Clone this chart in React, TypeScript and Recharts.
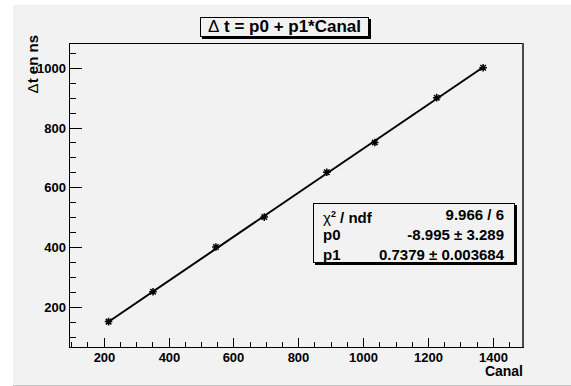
import { ComposedChart, Line, Scatter, XAxis, YAxis, ReferenceArea, ReferenceLine } from "recharts";

// measured points (Canal vs delta t in ns)
const canal = [215, 352, 546, 695, 888, 1036, 1227, 1370];
const deltaT = [150, 250, 400, 500, 650, 750, 900, 1000];

// fitted straight line, drawn over the data range
const fitCanal = [215, 1370];
const fitDeltaT = [149.6, 1001.9];

const xTicks = [100, 150, 200, 250, 300, 350, 400, 450, 500, 550, 600, 650, 700, 750, 800, 850, 900, 950, 1000, 1050, 1100, 1150, 1200, 1250, 1300, 1350, 1400, 1450];
const yTicks = [100, 150, 200, 250, 300, 350, 400, 450, 500, 550, 600, 650, 700, 750, 800, 850, 900, 950, 1000, 1050];
const xLabels = [200, 400, 600, 800, 1000, 1200, 1400];
const yLabels = [200, 400, 600, 800, 1000];

const statRows = [
  { name: "p0", value: "-8.995 ± 3.289" },
  { name: "p1", value: "0.7379 ± 0.003684" },
];

const points = canal.map((x, i) => ({ x, y: deltaT[i] }));
const fit = fitCanal.map((x, i) => ({ x, y: fitDeltaT[i] }));

const xMin = 93;
const xMax = 1493;
const yMin = 65;
const yMax = 1083;

const font = "'Liberation Sans', Arial, Helvetica, sans-serif";

// ROOT style: ticks point into the frame
function XTick(props: any) {
  const x = Math.round(Number(props.x)) + 0.5;
  const y = Math.round(Number(props.y));
  const v = props.payload.value;
  const major = xLabels.includes(v);
  return (
    <g>
      <path d={`M${x},${y}V${y - (major ? 9 : 5)}`} stroke="#000" strokeWidth={1} fill="none" shapeRendering="crispEdges" />
      {major && (
        <text x={x} y={y + 14.5} textAnchor="middle" fontFamily={font} fontWeight={700} fontSize={13} fill="#000">
          {v}
        </text>
      )}
    </g>
  );
}

function YTick(props: any) {
  const x = Math.round(Number(props.x));
  const y = Math.round(Number(props.y)) + 0.5;
  const v = props.payload.value;
  const major = yLabels.includes(v);
  return (
    <g>
      <path d={`M${x},${y}H${x + (major ? 13 : 7)}`} stroke="#000" strokeWidth={1} fill="none" shapeRendering="crispEdges" />
      {major && (
        <text x={x - 3} y={y + 4.5} textAnchor="end" fontFamily={font} fontWeight={700} fontSize={13} fill="#000">
          {v}
        </text>
      )}
    </g>
  );
}

function Star({ cx, cy }: any) {
  const r = 3.8;
  const d = r * 0.72;
  return (
    <path
      d={`M${cx - r},${cy}H${cx + r}M${cx},${cy - r}V${cy + r}M${cx - d},${cy - d}L${cx + d},${cy + d}M${cx - d},${cy + d}L${cx + d},${cy - d}`}
      stroke="#000"
      strokeWidth={1.5}
    />
  );
}

export default function App() {
  return (
    <div style={{ position: "fixed", left: 0, top: 0, width: 571, height: 386, background: "#fff", overflow: "hidden" }}>
      <div
        style={{
          position: "absolute",
          left: 13,
          top: 5,
          width: 558,
          height: 380,
          background: "#f2f2f2",
          borderBottom: "1px solid #c4c4c4",
        }}
      />
      <div style={{ position: "absolute", left: 0, top: 0 }}>
        <ComposedChart width={571} height={386} margin={{ top: 43, right: 48, bottom: 9, left: 9 }}>
          <XAxis
            type="number"
            dataKey="x"
            domain={[xMin, xMax]}
            allowDataOverflow
            ticks={xTicks}
            interval={0}
            tickSize={0}
            tickMargin={0}
            tickLine={false}
            tick={<XTick />}
            axisLine={{ stroke: "#000", shapeRendering: "crispEdges" }}
            height={30}
          />
          <YAxis
            type="number"
            dataKey="y"
            domain={[yMin, yMax]}
            allowDataOverflow
            ticks={yTicks}
            interval={0}
            tickSize={0}
            tickMargin={0}
            tickLine={false}
            tick={<YTick />}
            axisLine={{ stroke: "#000", shapeRendering: "crispEdges" }}
            width={60}
          />
          <ReferenceArea x1={xMin} x2={xMax} y1={yMin} y2={yMax} fill="none" stroke="#000" strokeWidth={1} shapeRendering="crispEdges" />
          <ReferenceLine x={xMax} stroke="#4a4a4a" strokeWidth={2} />
          <Line data={fit} dataKey="y" type="linear" stroke="#000" strokeWidth={2} dot={false} isAnimationActive={false} />
          <Scatter data={points} dataKey="y" shape={<Star />} isAnimationActive={false} />
        </ComposedChart>
      </div>
      <svg width={571} height={386} style={{ position: "absolute", left: 0, top: 0, pointerEvents: "none" }}>
        <text
          x={38}
          y={35}
          transform="rotate(-90 38 35)"
          textAnchor="end"
          fontFamily={font}
          fontWeight={700}
          fontSize={15}
          fill="#000"
        >
          <tspan fontWeight={400}>Δ</tspan>t en ns
        </text>
        <text x={523} y={376} textAnchor="end" fontFamily={font} fontWeight={700} fontSize={14} fill="#000">
          Canal
        </text>
      </svg>
      {/* title box */}
      <div
        style={{
          position: "absolute",
          left: 200,
          top: 17,
          width: 167,
          height: 18,
          border: "1px solid #000",
          boxShadow: "2px 2px 0 #000",
          background: "#f2f2f2",
          fontFamily: font,
          fontWeight: 700,
          fontSize: 17,
          lineHeight: "18px",
          textAlign: "center",
          whiteSpace: "nowrap",
        }}
      >
        <span style={{ fontWeight: 400 }}>Δ</span> t = p0 + p1*Canal
      </div>
      {/* fit statistics box */}
      <div
        style={{
          position: "absolute",
          left: 313,
          top: 203,
          width: 200,
          height: 58,
          border: "1px solid #000",
          boxShadow: "2px 2px 0 #000",
          background: "#f2f2f2",
          fontFamily: font,
          fontWeight: 700,
          fontSize: 15,
        }}
      >
        <div style={{ position: "absolute", left: 9, right: 10, top: 1, height: 19, display: "flex", justifyContent: "space-between", lineHeight: "19px" }}>
          <span>
            <span style={{ fontWeight: 400 }}>χ</span>
            <sup style={{ fontSize: 9, verticalAlign: "6px" }}>2</sup> / ndf
          </span>
          <span>9.966 / 6</span>
        </div>
        {statRows.map((r, i) => (
          <div
            key={r.name}
            style={{ position: "absolute", left: 9, right: 10, top: 21 + i * 19.5, height: 19, display: "flex", justifyContent: "space-between", lineHeight: "19px" }}
          >
            <span>{r.name}</span>
            <span>{r.value}</span>
          </div>
        ))}
      </div>
    </div>
  );
}
